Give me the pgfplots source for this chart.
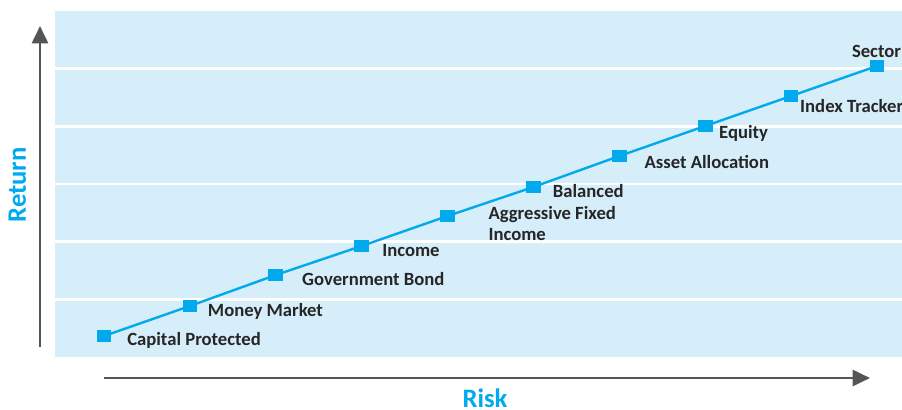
\documentclass[border=0pt]{standalone}
\usepackage{fontspec}
\setmainfont{Carlito}[BoldFont={Carlito Bold}]
\usepackage{pgfplots}
\pgfplotsset{compat=1.18}
\usetikzlibrary{arrows.meta}
\definecolor{bg}{RGB}{214,237,250}
\definecolor{line}{RGB}{0,170,236}
\definecolor{lbl}{RGB}{38,38,38}
\definecolor{arr}{RGB}{85,85,85}
\begin{document}
\begin{tikzpicture}
\useasboundingbox (-41.25pt,-39.5pt) rectangle (635.25pt,267.75pt);
\begin{axis}[
  at={(0pt,0pt)}, anchor=south west,
  scale only axis, width=635.25pt, height=259.5pt,
  xmin=0.4295, xmax=10.291, ymin=0, ymax=6,
  axis line style={draw=none},
  axis background/.style={fill=bg},
  xtick=\empty, ytick={1,2,3,4,5}, yticklabels={},
  major tick length=0pt,
  ymajorgrids, grid style={white, line width=2pt},
  clip=false,
]
\addplot[line, line width=1.8pt, mark=square*, mark size=4.6pt,
  mark options={yscale=0.78, fill=line, draw=none}] coordinates {
  (1,0.364) (2,0.884) (3,1.422) (4,1.925) (5,2.445)
  (6,2.948) (7,3.485) (8,4.006) (9,4.526) (10,5.046)
};
\begin{scope}[every node/.style={font=\fontsize{14}{16}\selectfont\bfseries, text=lbl, inner sep=0pt}]
\node[anchor=west] at (axis cs:1.268,0.295) {Capital Protected};
\node[anchor=west] at (axis cs:2.207,0.786) {Money Market};
\node[anchor=west] at (axis cs:3.305,1.353) {Government Bond};
\node[anchor=west] at (axis cs:4.237,1.838) {Income};
\node[anchor=west] at (axis cs:5.474,2.474) {Aggressive Fixed};
\node[anchor=west] at (axis cs:5.474,2.128) {Income};
\node[anchor=west] at (axis cs:6.224,2.884) {Balanced};
\node[anchor=west] at (axis cs:7.291,3.387) {Asset Allocation};
\node[anchor=west] at (axis cs:8.160,3.879) {Equity};
\node[anchor=west] at (axis cs:9.103,4.352) {Index Tracker};
\node at (axis cs:9.994,5.294) {Sector};
\end{scope}
\end{axis}
\draw[arr, line width=2pt, -{Triangle[width=12pt,length=13pt]}] (-11.25pt,7.5pt) -- (-11.25pt,248.25pt);
\draw[arr, line width=2pt, -{Triangle[width=12pt,length=13pt]}] (36.75pt,-15.75pt) -- (611.25pt,-15.75pt);
\node[text=line, font=\fontsize{20}{24}\selectfont\bfseries, anchor=base, inner sep=0pt] at (322.5pt,-38pt) {Risk};
\node[text=line, font=\fontsize{20}{24}\selectfont\bfseries, rotate=90, anchor=base, inner sep=0pt] at (-21.75pt,129pt) {Return};
\end{tikzpicture}
\end{document}
